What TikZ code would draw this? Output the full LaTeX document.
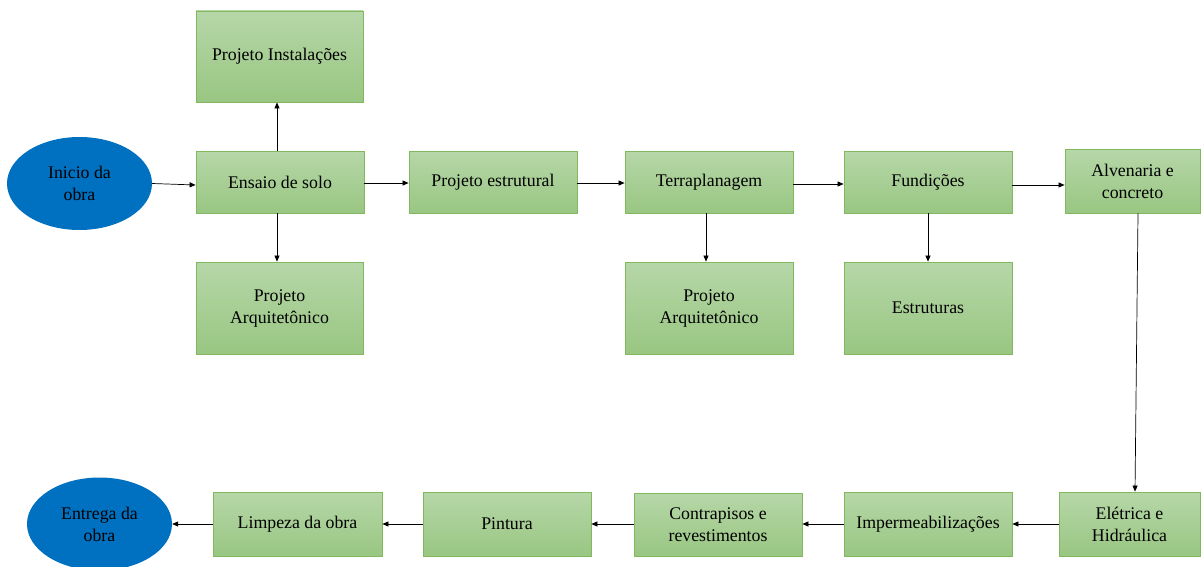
\documentclass[tikz,border=0pt]{standalone}
\usepackage{fontspec}
\setmainfont{Liberation Serif}
\usetikzlibrary{shapes.geometric,arrows.meta}
\definecolor{gtop}{HTML}{B6D7A8}
\definecolor{gbot}{HTML}{99C682}
\definecolor{gborder}{HTML}{82B85E}
\definecolor{oblue}{HTML}{0070C0}
\tikzset{
  box/.style={rectangle, draw=gborder, line width=0.8pt, top color=gtop, bottom color=gbot,
    align=center, font=\fontsize{17.8}{22}\selectfont, inner sep=0pt},
  oval/.style={ellipse, fill=oblue, draw=none, align=center,
    font=\fontsize{17.8}{22}\selectfont, inner sep=0pt},
  arr/.style={-{Triangle[length=6pt,width=5pt]}, line width=0.7pt},
}
\newcommand{\bx}[6]{\node[box, minimum width=#3-#1, minimum height=#4-#2] (#5) at ({(#1+#3)/2},{(#2+#4)/2}) {#6};}
\begin{document}
\begin{tikzpicture}[x=1pt,y=-1pt]
\useasboundingbox (0,0) rectangle (1201,567);
\bx{196}{11}{363}{102}{inst}{Projeto Instalações}
\node[oval, minimum width=145, minimum height=93] (ini) at (79.5,183.5) {Inicio da\\obra};
\bx{196}{151}{364}{213}{ens}{Ensaio de solo}
\bx{196}{262}{363}{354}{arq1}{Projeto\\Arquitetônico}
\bx{409}{151}{577}{213}{est}{Projeto estrutural}
\bx{625}{151}{793}{213}{ter}{Terraplanagem}
\bx{625}{262}{793}{354}{arq2}{Projeto\\Arquitetônico}
\bx{844}{151}{1012}{213}{fun}{Fundições}
\bx{844}{262}{1012}{354}{estr}{Estruturas}
\bx{1065}{149}{1200}{213}{alv}{Alvenaria e\\concreto}
\bx{1059}{492}{1200}{556}{ele}{Elétrica e\\Hidráulica}
\bx{844}{492}{1012}{556}{imp}{Impermeabilizações}
\bx{634}{493}{802}{556}{con}{Contrapisos e\\revestimentos}
\bx{423}{492}{591}{556}{pin}{Pintura}
\bx{213}{492}{382}{556}{lim}{Limpeza da obra}
\node[oval, minimum width=145, minimum height=93] (ent) at (99.5,524) {Entrega da\\obra};

\draw[arr] (ini.east) -- (ens.west |- 0,185);
\draw[arr] (ens.north -| 277,0) -- (inst.south -| 277,0);
\draw[arr] (ens.south -| 277,0) -- (arq1.north -| 277,0);
\draw[arr] (ens.east |- 0,183) -- (est.west |- 0,183);
\draw[arr] (est.east |- 0,183) -- (ter.west |- 0,183);
\draw[arr] (ter.east |- 0,184) -- (fun.west |- 0,184);
\draw[arr] (ter.south -| 706,0) -- (arq2.north -| 706,0);
\draw[arr] (fun.south -| 928,0) -- (estr.north -| 928,0);
\draw[arr] (fun.east |- 0,185) -- (alv.west |- 0,185);
\draw[arr] (alv.south -| 1138,0) -- (ele.north -| 1135,0);
\draw[arr] (ele.west |- 0,524) -- (imp.east |- 0,524);
\draw[arr] (imp.west |- 0,524) -- (con.east |- 0,524);
\draw[arr] (con.west |- 0,524) -- (pin.east |- 0,524);
\draw[arr] (pin.west |- 0,524) -- (lim.east |- 0,524);
\draw[arr] (lim.west |- 0,524) -- (ent.east);
\end{tikzpicture}
\end{document}
